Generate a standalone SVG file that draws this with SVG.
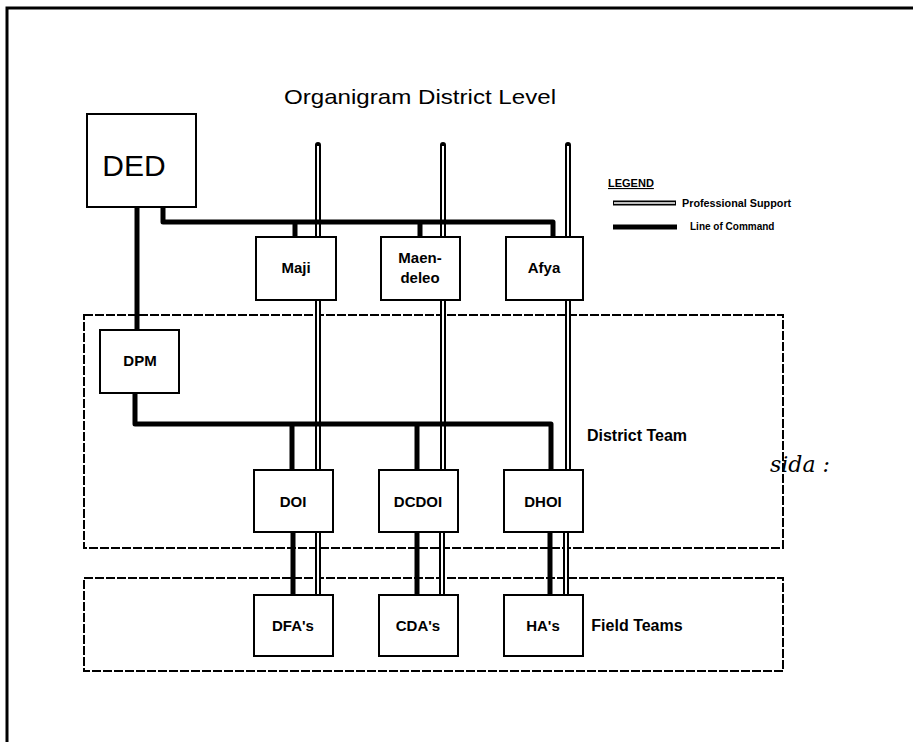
<svg xmlns="http://www.w3.org/2000/svg" width="913" height="742" viewBox="0 0 913 742">
<style>
.frame{fill:none;stroke:#000;stroke-width:3}
.box{fill:#fff;stroke:#000;stroke-width:2}
.team{fill:none;stroke:#000;stroke-width:2;stroke-dasharray:9 2}
.cmd{fill:none;stroke:#000;stroke-width:5;stroke-linejoin:round}
.psO{fill:none;stroke:#000;stroke-width:6;stroke-linecap:round}
.psI{fill:none;stroke:#fff;stroke-width:2}
.lbl{font-family:"Liberation Sans",Arial,sans-serif;font-weight:bold;font-size:15px;text-anchor:middle;fill:#000}
.t{font-family:"Liberation Sans",Arial,sans-serif;fill:#000}
</style>
<rect width="913" height="742" fill="#fff"/>
<path class="frame" d="M7,742 V8 H913"/>
<text class="t" x="420" y="104" font-size="21" text-anchor="middle" textLength="272" lengthAdjust="spacingAndGlyphs">Organigram District Level</text>
<g id="district-team"><rect class="team" x="84" y="315" width="699" height="233"/><text class="t" x="637" y="441" font-size="16" font-weight="bold" text-anchor="middle">District Team</text></g>
<g id="field-teams"><rect class="team" x="84" y="578" width="699" height="93"/><text class="t" x="637" y="631" font-size="16" font-weight="bold" text-anchor="middle">Field Teams</text></g>
<g id="connectors">
<g id="professional-support">
<path class="psO" d="M318,145 V237 M318,300 V470 M318,532 V595 M443,145 V237 M443,300 V470 M442,532 V595 M568,145 V237 M568,300 V470 M566,532 V595"/>
<path class="psI" d="M318,146 V237 M318,300 V470 M318,532 V595 M443,146 V237 M443,300 V470 M442,532 V595 M568,146 V237 M568,300 V470 M566,532 V595"/>
</g>
<g id="line-of-command">
<path class="cmd" d="M163,207 V222 H553 V237 M295,222 V237 M420,222 V237"/>
<path class="cmd" d="M137,207 V330"/>
<path class="cmd" d="M135,393 V424 H551 V470 M292,424 V470 M417,424 V470"/>
<path class="cmd" d="M293,532 V595 M417,532 V595 M550,532 V595"/>
</g>
</g>
<g id="DED"><rect class="box" x="87" y="114" width="109" height="93"/><text class="t" x="134" y="176" font-size="30" text-anchor="middle">DED</text></g>
<g id="Maji"><rect class="box" x="256" y="237" width="80" height="63"/><text class="lbl" x="296" y="273">Maji</text></g>
<g id="Maendeleo"><rect class="box" x="381" y="237" width="79" height="63"/><text class="lbl" x="420" y="263">Maen-</text><text class="lbl" x="420" y="283">deleo</text></g>
<g id="Afya"><rect class="box" x="506" y="237" width="77" height="63"/><text class="lbl" x="544" y="273">Afya</text></g>
<g id="DPM"><rect class="box" x="100" y="330" width="79" height="63"/><text class="lbl" x="140" y="366">DPM</text></g>
<g id="DOI"><rect class="box" x="254" y="470" width="79" height="62"/><text class="lbl" x="293" y="507">DOI</text></g>
<g id="DCDOI"><rect class="box" x="379" y="470" width="79" height="62"/><text class="lbl" x="418" y="507">DCDOI</text></g>
<g id="DHOI"><rect class="box" x="504" y="470" width="79" height="62"/><text class="lbl" x="543" y="507">DHOI</text></g>
<g id="DFAs"><rect class="box" x="254" y="595" width="79" height="61"/><text class="lbl" x="293" y="631">DFA's</text></g>
<g id="CDAs"><rect class="box" x="379" y="595" width="79" height="61"/><text class="lbl" x="418" y="631">CDA's</text></g>
<g id="HAs"><rect class="box" x="504" y="595" width="79" height="61"/><text class="lbl" x="543" y="631">HA's</text></g>
<g id="legend">
<text class="t" x="608" y="187" font-size="11" font-weight="bold" text-decoration="underline">LEGEND</text>
<path d="M613,203 H676" style="fill:none;stroke:#000;stroke-width:5"/>
<path d="M614,203 H675" style="fill:none;stroke:#fff;stroke-width:1.5"/>
<text class="t" x="682" y="207" font-size="10.8" font-weight="bold">Professional Support</text>
<path class="cmd" d="M613,227 H677"/>
<text class="t" x="690" y="230" font-size="10" font-weight="bold">Line of Command</text>
</g>
<text x="770" y="472" font-family="'DejaVu Serif',serif" font-style="italic" font-size="22" fill="#000">sida :</text>
</svg>
